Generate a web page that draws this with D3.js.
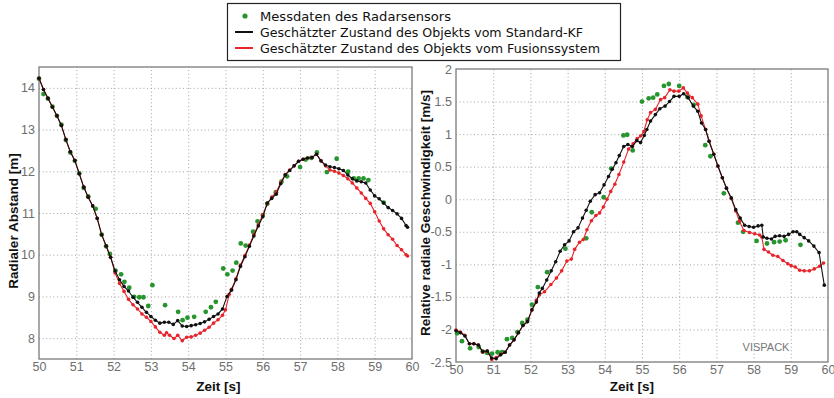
<!DOCTYPE html>
<html><head><meta charset="utf-8">
<script src="https://cdn.jsdelivr.net/npm/d3@7"></script>
<style>html,body{margin:0;padding:0;background:#fff;}svg{display:block;}</style>
</head><body>
<svg id="chart" width="834" height="398"></svg>
<script>
// ---------- data ----------
const xTicks = [50,51,52,53,54,55,56,57,58,59,60];
const leftYTicks = [8,9,10,11,12,13,14];
const rightYTicks = [-2.5,-2,-1.5,-1,-0.5,0,0.5,1,1.5,2];
const legendLabels = ["Messdaten des Radarsensors","Geschätzter Zustand des Objekts vom Standard-KF","Geschätzter Zustand des Objekts vom Fusionssystem"];
const leftYLabel = "Radialer Abstand [m]";
const rightYLabel = "Relative radiale Geschwindigkeit [m/s]";
const xLabel = "Zeit [s]";

// left panel: radial distance [m]
const distKF = [[50.00,14.23],[50.12,13.96],[50.24,13.75],[50.36,13.54],[50.48,13.33],[50.60,13.10],[50.72,12.76],[50.84,12.47],[50.96,12.26],[51.08,11.94],[51.20,11.62],[51.32,11.38],[51.44,11.17],[51.56,10.87],[51.68,10.48],[51.80,10.21],[51.92,9.94],[52.04,9.61],[52.16,9.40],[52.28,9.24],[52.40,9.13],[52.52,8.98],[52.64,8.86],[52.76,8.74],[52.88,8.62],[53.00,8.52],[53.12,8.43],[53.24,8.36],[53.36,8.38],[53.48,8.38],[53.60,8.33],[53.72,8.42],[53.84,8.29],[53.96,8.28],[54.08,8.30],[54.20,8.32],[54.32,8.35],[54.44,8.39],[54.56,8.45],[54.68,8.52],[54.80,8.58],[54.92,8.70],[55.04,9.00],[55.16,9.15],[55.28,9.40],[55.40,9.72],[55.52,9.95],[55.64,10.20],[55.76,10.45],[55.88,10.69],[56.00,10.91],[56.12,11.24],[56.24,11.35],[56.36,11.45],[56.48,11.70],[56.60,11.91],[56.72,12.02],[56.84,12.13],[56.96,12.24],[57.08,12.29],[57.20,12.32],[57.32,12.33],[57.44,12.41],[57.56,12.25],[57.68,12.15],[57.80,12.11],[57.92,12.09],[58.04,12.06],[58.16,12.02],[58.28,11.91],[58.40,11.82],[58.52,11.77],[58.64,11.75],[58.76,11.72],[58.88,11.55],[59.00,11.41],[59.12,11.34],[59.24,11.24],[59.36,11.13],[59.48,11.06],[59.60,10.98],[59.72,10.87],[59.84,10.70],[59.88,10.66]];
const distFusion = [[50.00,14.23],[50.12,13.96],[50.24,13.75],[50.36,13.54],[50.48,13.33],[50.60,13.10],[50.72,12.76],[50.84,12.47],[50.96,12.26],[51.08,11.94],[51.20,11.62],[51.32,11.38],[51.44,11.17],[51.56,10.87],[51.68,10.48],[51.80,10.21],[51.92,9.94],[52.04,9.56],[52.16,9.31],[52.28,9.12],[52.40,8.93],[52.52,8.80],[52.64,8.70],[52.76,8.58],[52.88,8.50],[53.00,8.40],[53.12,8.27],[53.24,8.14],[53.36,8.07],[53.42,8.13],[53.50,8.07],[53.62,7.99],[53.72,8.07],[53.84,7.94],[53.96,8.02],[54.08,8.03],[54.20,8.07],[54.32,8.12],[54.44,8.19],[54.56,8.26],[54.68,8.36],[54.80,8.44],[54.92,8.55],[55.00,8.68],[55.10,9.05],[55.16,9.17],[55.28,9.42],[55.40,9.75],[55.52,9.98],[55.64,10.23],[55.76,10.48],[55.88,10.72],[56.00,10.95],[56.12,11.22],[56.24,11.38],[56.36,11.50],[56.48,11.73],[56.60,11.92],[56.72,12.03],[56.84,12.13],[56.96,12.24],[57.08,12.29],[57.20,12.32],[57.32,12.33],[57.44,12.41],[57.56,12.25],[57.68,12.13],[57.80,12.03],[57.92,12.00],[58.04,11.96],[58.16,11.90],[58.28,11.82],[58.40,11.72],[58.52,11.60],[58.64,11.48],[58.76,11.35],[58.88,11.23],[59.00,11.03],[59.12,10.81],[59.24,10.62],[59.36,10.48],[59.48,10.37],[59.60,10.22],[59.72,10.12],[59.84,10.00],[59.88,9.97]];
const distRadar = [[50.00,14.22],[50.12,13.85],[50.24,13.74],[50.36,13.55],[50.48,13.33],[50.60,13.12],[50.72,12.75],[50.84,12.45],[50.96,12.25],[51.08,11.95],[51.20,11.60],[51.32,11.40],[51.52,11.10],[51.68,10.48],[51.80,10.20],[51.90,10.02],[52.05,9.62],[52.20,9.53],[52.29,9.35],[52.42,9.21],[52.55,8.99],[52.69,8.98],[52.80,8.98],[52.93,8.77],[53.04,9.27],[53.38,8.79],[53.73,8.63],[53.85,8.43],[53.98,8.49],[54.16,8.51],[54.47,8.63],[54.61,8.74],[54.74,8.87],[54.94,9.67],[55.05,9.53],[55.19,9.62],[55.29,9.81],[55.41,10.27],[55.54,10.22],[55.74,10.55],[55.86,10.80],[56.00,10.95],[56.12,11.22],[56.35,11.50],[56.50,11.75],[56.65,11.88],[57.00,12.10],[57.15,12.28],[57.30,12.32],[57.45,12.45],[57.72,11.98],[57.98,12.30],[58.29,11.99],[58.44,11.83],[58.57,11.83],[58.70,11.83],[58.83,11.79],[59.24,11.25]];

// right panel: relative radial velocity [m/s]
const velKF = [[50.00,-2.02],[50.12,-2.05],[50.24,-2.10],[50.36,-2.22],[50.48,-2.22],[50.60,-2.24],[50.72,-2.34],[50.84,-2.33],[50.96,-2.44],[51.08,-2.45],[51.20,-2.39],[51.32,-2.35],[51.44,-2.24],[51.56,-2.16],[51.68,-2.05],[51.80,-1.94],[51.92,-1.88],[52.04,-1.70],[52.16,-1.58],[52.24,-1.44],[52.32,-1.37],[52.44,-1.24],[52.56,-1.10],[52.68,-0.96],[52.80,-0.80],[52.92,-0.70],[53.04,-0.64],[53.16,-0.50],[53.28,-0.44],[53.40,-0.29],[53.50,-0.17],[53.61,-0.03],[53.74,0.07],[53.86,0.10],[53.98,0.22],[54.10,0.35],[54.20,0.46],[54.30,0.56],[54.39,0.67],[54.51,0.81],[54.62,0.84],[54.74,0.81],[54.86,0.90],[54.96,0.87],[55.06,0.98],[55.13,1.07],[55.23,1.20],[55.36,1.30],[55.48,1.39],[55.62,1.43],[55.74,1.50],[55.86,1.58],[56.00,1.58],[56.12,1.62],[56.24,1.56],[56.38,1.43],[56.50,1.35],[56.60,1.17],[56.71,1.07],[56.80,0.89],[56.93,0.69],[57.04,0.51],[57.16,0.33],[57.27,0.17],[57.40,0.02],[57.52,-0.16],[57.64,-0.29],[57.76,-0.40],[57.88,-0.42],[58.00,-0.43],[58.12,-0.41],[58.22,-0.40],[58.26,-0.58],[58.36,-0.60],[58.48,-0.61],[58.58,-0.57],[58.70,-0.56],[58.82,-0.57],[58.94,-0.54],[59.06,-0.50],[59.16,-0.50],[59.24,-0.54],[59.36,-0.59],[59.48,-0.64],[59.62,-0.72],[59.76,-0.82],[59.90,-1.32]];
const velFusion = [[50.00,-2.01],[50.12,-2.04],[50.24,-2.09],[50.36,-2.22],[50.48,-2.22],[50.60,-2.24],[50.72,-2.35],[50.84,-2.33],[50.96,-2.46],[51.08,-2.43],[51.20,-2.38],[51.32,-2.35],[51.44,-2.24],[51.56,-2.16],[51.68,-2.05],[51.80,-1.94],[51.92,-1.88],[52.04,-1.70],[52.16,-1.55],[52.24,-1.47],[52.38,-1.42],[52.55,-1.31],[52.70,-1.21],[52.84,-1.10],[52.98,-0.95],[53.10,-0.92],[53.19,-0.77],[53.32,-0.66],[53.42,-0.62],[53.52,-0.47],[53.64,-0.33],[53.76,-0.25],[53.86,-0.21],[53.96,-0.12],[54.06,0.00],[54.16,0.12],[54.27,0.23],[54.38,0.38],[54.51,0.57],[54.64,0.77],[54.76,0.85],[54.87,0.93],[54.96,0.97],[55.05,1.04],[55.14,1.22],[55.23,1.33],[55.36,1.38],[55.50,1.53],[55.61,1.56],[55.75,1.68],[55.86,1.66],[55.99,1.66],[56.11,1.71],[56.22,1.63],[56.35,1.56],[56.50,1.46],[56.59,1.28],[56.71,1.07],[56.81,0.89],[56.93,0.69],[57.04,0.51],[57.16,0.33],[57.27,0.17],[57.40,0.01],[57.52,-0.18],[57.62,-0.34],[57.74,-0.48],[57.89,-0.51],[58.03,-0.53],[58.16,-0.55],[58.22,-0.58],[58.28,-0.77],[58.40,-0.81],[58.52,-0.86],[58.65,-0.88],[58.79,-0.94],[58.92,-0.99],[59.01,-1.02],[59.12,-1.04],[59.24,-1.09],[59.36,-1.10],[59.50,-1.10],[59.63,-1.07],[59.77,-1.03],[59.88,-0.98]];
const velRadar = [[50.03,-2.06],[50.16,-2.18],[50.38,-2.29],[50.61,-2.27],[50.72,-2.34],[50.84,-2.36],[50.97,-2.37],[51.12,-2.35],[51.24,-2.35],[51.37,-2.15],[51.51,-2.13],[51.65,-2.04],[51.78,-1.90],[51.92,-1.85],[52.04,-1.62],[52.20,-1.35],[52.45,-1.12],[52.94,-0.76],[53.50,-0.60],[53.65,-0.20],[53.97,0.03],[54.17,0.47],[54.50,0.98],[54.60,0.99],[54.75,0.75],[55.00,1.50],[55.18,1.55],[55.30,1.56],[55.41,1.61],[55.59,1.74],[55.72,1.77],[56.00,1.74],[56.22,1.57],[56.39,1.45],[56.70,0.83],[56.84,0.66],[57.20,0.09],[57.58,-0.36],[57.72,-0.50],[58.08,-0.64],[58.36,-0.68],[58.55,-0.66],[58.70,-0.65],[58.86,-0.63],[59.26,-0.70]];

// ---------- drawing ----------
const svg = d3.select("#chart");
const COL = {radar:"#27952e", kf:"#111111", fusion:"#e8232a", frame:"#7a7a7a", grid:"#9a9a9a", tick:"#6e6e6e"};

function panel(cfg){
  const x = d3.scaleLinear().domain([50,60]).range([cfg.x0,cfg.x1]);
  const y = d3.scaleLinear().domain(cfg.yDomain).range([cfg.y1,cfg.y0]);
  const g = svg.append("g");
  // grid
  g.append("g").attr("transform",`translate(0,${cfg.y1})`)
    .call(d3.axisBottom(x).tickValues(xTicks.slice(1,-1)).tickSize(-(cfg.y1-cfg.y0)).tickFormat(""))
    .call(s=>s.select(".domain").remove())
    .call(s=>s.selectAll("line").attr("stroke",COL.grid).attr("stroke-width",0.9).attr("stroke-dasharray","1,2.6"));
  g.append("g").attr("transform",`translate(${cfg.x0},0)`)
    .call(d3.axisLeft(y).tickValues(cfg.yTicks.filter(v=>v>cfg.yDomain[0]&&v<cfg.yDomain[1])).tickSize(-(cfg.x1-cfg.x0)).tickFormat(""))
    .call(s=>s.select(".domain").remove())
    .call(s=>s.selectAll("line").attr("stroke",COL.grid).attr("stroke-width",0.9).attr("stroke-dasharray","1,2.6"));
  // tick labels
  g.append("g").attr("transform",`translate(0,${cfg.y1})`)
    .call(d3.axisBottom(x).tickValues(xTicks).tickSize(0).tickPadding(3).tickFormat(d3.format("d")))
    .call(s=>s.select(".domain").remove())
    .call(s=>s.selectAll("text").attr("fill",COL.tick).attr("font-family","Liberation Sans, Arial, sans-serif").attr("font-size",12.5));
  g.append("g").attr("transform",`translate(${cfg.x0},0)`)
    .call(d3.axisLeft(y).tickValues(cfg.yTicks).tickSize(0).tickPadding(4).tickFormat(d=>String(d)))
    .call(s=>s.select(".domain").remove())
    .call(s=>s.selectAll("text").attr("fill",COL.tick).attr("font-family","Liberation Sans, Arial, sans-serif").attr("font-size",12.5));
  // frame
  g.append("rect").attr("x",cfg.x0).attr("y",cfg.y0).attr("width",cfg.x1-cfg.x0).attr("height",cfg.y1-cfg.y0)
    .attr("fill","none").attr("stroke",COL.frame).attr("stroke-width",1.3);
  const line = d3.line().x(d=>x(d[0])).y(d=>y(d[1]));
  // radar measurements
  g.append("g").selectAll("circle").data(cfg.radar).join("circle")
    .attr("cx",d=>x(d[0])).attr("cy",d=>y(d[1])).attr("r",2.4).attr("fill",COL.radar);
  // fusion
  g.append("path").datum(cfg.fusion).attr("d",line).attr("fill","none").attr("stroke",COL.fusion).attr("stroke-width",1.1);
  g.append("g").selectAll("circle").data(cfg.fusion).join("circle")
    .attr("cx",d=>x(d[0])).attr("cy",d=>y(d[1])).attr("r",1.8).attr("fill",COL.fusion);
  // KF
  g.append("path").datum(cfg.kf).attr("d",line).attr("fill","none").attr("stroke",COL.kf).attr("stroke-width",1.1);
  g.append("g").selectAll("circle").data(cfg.kf).join("circle")
    .attr("cx",d=>x(d[0])).attr("cy",d=>y(d[1])).attr("r",1.8).attr("fill",COL.kf);
  // axis labels
  g.append("text").attr("x",(cfg.x0+cfg.x1)/2 + cfg.xlOff).attr("y",391).attr("text-anchor","middle")
    .attr("font-family","Liberation Sans, Arial, sans-serif").attr("font-weight","bold").attr("font-size",13.5).attr("fill","#111").text(xLabel);
  g.append("text").attr("transform",`translate(${cfg.ylX},${cfg.ylY}) rotate(-90)`).attr("text-anchor","middle")
    .attr("font-family","Liberation Sans, Arial, sans-serif").attr("font-weight","bold").attr("font-size",13.5).attr("fill","#111").text(cfg.ylabel);
  return {x,y,g};
}

panel({x0:39,x1:412,y0:67,y1:359,yDomain:[7.5,14.5],yTicks:leftYTicks,kf:distKF,fusion:distFusion,radar:distRadar,ylabel:leftYLabel,ylX:18,ylY:221,xlOff:-7});
const R = panel({x0:456,x1:828,y0:69,y1:362,yDomain:[-2.5,2],yTicks:rightYTicks,kf:velKF,fusion:velFusion,radar:velRadar,ylabel:rightYLabel,ylX:430,ylY:213,xlOff:-10});

R.g.append("text").attr("x",766).attr("y",351).attr("text-anchor","middle").attr("font-family","Liberation Sans, Arial, sans-serif")
  .attr("font-size",11).attr("fill","#777").text("VISPACK");

// legend
const lg = svg.append("g");
lg.append("rect").attr("x",227.5).attr("y",3.5).attr("width",393).attr("height",57).attr("fill","#fff").attr("stroke","#222").attr("stroke-width",1.2);
const legY = [16,32,48];
lg.append("circle").attr("cx",245).attr("cy",legY[0]).attr("r",2.6).attr("fill",COL.radar);
lg.append("line").attr("x1",235).attr("x2",253).attr("y1",legY[1]).attr("y2",legY[1]).attr("stroke",COL.kf).attr("stroke-width",2);
lg.append("line").attr("x1",235).attr("x2",253).attr("y1",legY[2]).attr("y2",legY[2]).attr("stroke",COL.fusion).attr("stroke-width",2);
const legW = [191,323,340];
lg.selectAll("text.l").data(legendLabels).join("text").attr("class","l")
  .attr("x",260).attr("y",(d,i)=>legY[i]+4.6).attr("font-family","DejaVu Sans, Verdana, sans-serif").attr("font-size",13)
  .attr("fill","#111").attr("textLength",(d,i)=>legW[i]).attr("lengthAdjust","spacingAndGlyphs").text(d=>d);
</script>
</body></html>
